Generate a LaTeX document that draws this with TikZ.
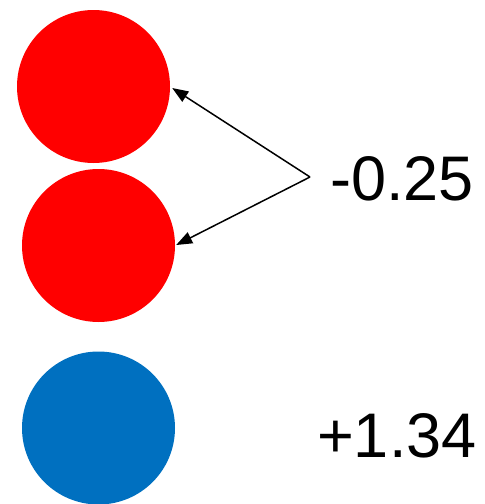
\documentclass[tikz,border=0pt]{standalone}
\usepackage{fontspec}
\setmainfont{Liberation Sans}
\usetikzlibrary{arrows.meta}
\definecolor{ballred}{HTML}{FF0000}
\definecolor{ballblue}{HTML}{0070C0}
\begin{document}
\begin{tikzpicture}[x=1pt,y=1pt,
  ball/.style={circle,minimum size=153pt,inner sep=0pt,draw=none},
  charge/.style={anchor=base west,inner sep=0pt,font=\fontsize{63}{63}\selectfont},
  pointer/.style={line width=1.5pt,-{Triangle[length=16pt,width=12pt]}}]
  \useasboundingbox (0,0) rectangle (485,-504);
  % three atoms
  \node[ball,fill=ballred]  (r1) at (93.5,-86.5) {};
  \node[ball,fill=ballred]  (r2) at (98.5,-245.5) {};
  \node[ball,fill=ballblue] (b1) at (98.5,-428) {};
  % charge labels
  \node[charge] (qneg) at (330,-200) {-0.25};
  \node[charge] (qpos) at (317,-457) {+1.34};
  % shared pointer to both red atoms
  \coordinate (v) at (310,-177);
  \draw[pointer] (v) -- ([shift={(2,-1.5)}]r1.east);
  \draw[pointer] (v) -- ([shift={(1,0.5)}]r2.east);
\end{tikzpicture}
\end{document}
